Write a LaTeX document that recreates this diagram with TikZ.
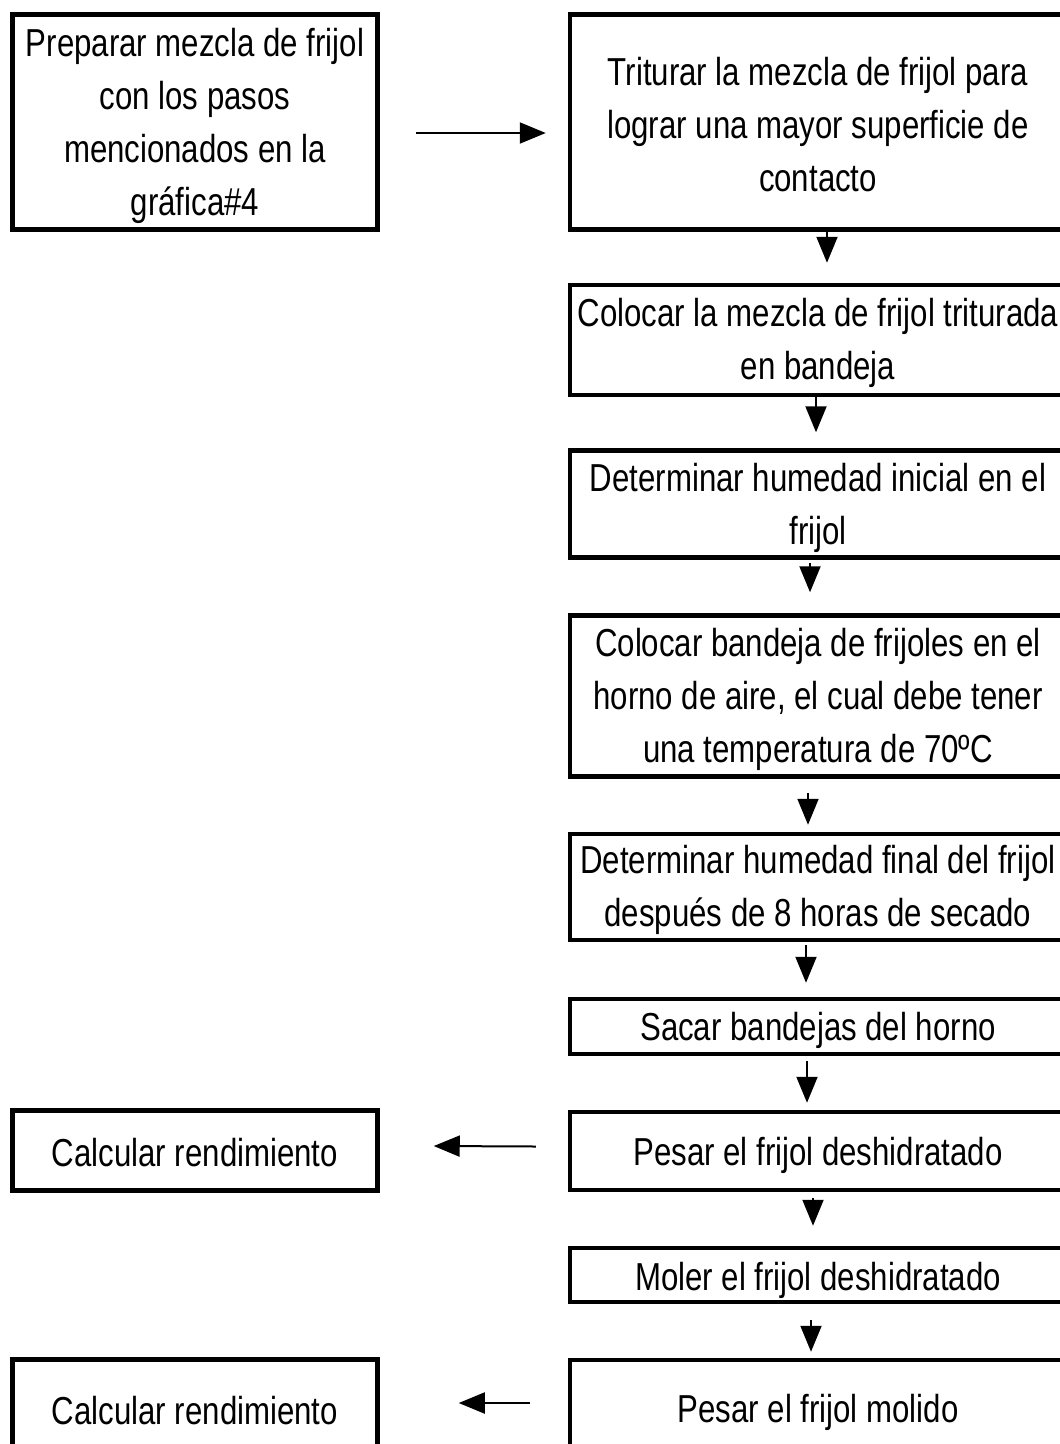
\documentclass[tikz,border=0pt]{standalone}
\usepackage{fontspec}
\setmainfont{Liberation Sans}[FakeStretch=0.8]
\usetikzlibrary{arrows.meta}
\begin{document}
\begin{tikzpicture}[x=1pt,y=-1pt,
  box/.style={draw, line width=4.5pt, inner sep=0pt},
  rbox/.style={box, minimum width=496pt},
  lbox/.style={box, minimum width=365pt},
  txt/.style={inner sep=0pt, align=center, font={\fontsize{39pt}{53pt}\selectfont}},
  arr/.style={line width=2pt, -{Triangle[width=21pt,length=26pt]}}]
\useasboundingbox (0,0) rectangle (1060,1444);
\clip (0,0) rectangle (1060,1444);
\fill[white] (0,0) rectangle (1060,1444);

% boxes
\node[lbox, minimum height=215pt] (L1) at (195,122) {};
\node[rbox, minimum height=215pt] (R1) at (818,122) {};
\node[rbox, minimum height=110pt] (R2) at (818,340) {};
\node[rbox, minimum height=107pt] (R3) at (818,504) {};
\node[rbox, minimum height=161pt] (R4) at (818,696) {};
\node[rbox, minimum height=106pt] (R5) at (818,887) {};
\node[rbox, minimum height=55pt] (R6) at (818,1026.5) {};
\node[rbox, minimum height=78pt] (R7) at (818,1151) {};
\node[rbox, minimum height=54pt] (R8) at (818,1275) {};
\node[rbox, minimum height=96pt] (R9) at (818,1408) {};
\node[lbox, minimum height=80pt] (L2) at (195,1150.5) {};
\node[lbox, minimum height=97pt] (L3) at (195,1408) {};

% texts
\node[txt] (L1t) at ([yshift=-4pt]L1.center) {Preparar mezcla de frijol\\con los pasos\\mencionados en la\\gráfica\#4};
\node[txt] (R1t) at ([yshift=-3pt]R1.center) {Triturar la mezcla de frijol para\\lograr una mayor superficie de\\contacto};
\node[txt] (R2t) at ([yshift=-3pt]R2.center) {Colocar la mezcla de frijol triturada\\en bandeja};
\node[txt] (R3t) at ([yshift=-4pt]R3.center) {Determinar humedad inicial en el\\frijol};
\node[txt] (R4t) at ([yshift=-3pt]R4.center) {Colocar bandeja de frijoles en el\\horno de aire, el cual debe tener\\una temperatura de 70ºC};
\node[txt] (R5t) at ([yshift=-3pt]R5.center) {Determinar humedad final del frijol\\después de 8 horas de secado};
\node[txt] (R6t) at ([yshift=-4pt]R6.center) {Sacar bandejas del horno};
\node[txt] (R7t) at ([yshift=-4pt]R7.center) {Pesar el frijol deshidratado};
\node[txt] (R8t) at ([yshift=-5pt]R8.center) {Moler el frijol deshidratado};
\node[txt] (R9t) at ([yshift=-4pt]R9.center) {Pesar el frijol molido};
\node[txt] (L2t) at ([yshift=-2pt]L2.center) {Calcular rendimiento};
\node[txt] (L3t) at ([yshift=-3pt]L3.center) {Calcular rendimiento};

% horizontal arrows
\draw[arr] ([xshift=36pt,yshift=-11pt]L1.east) -- ([xshift=-22pt,yshift=-11pt]R1.west);
\draw[arr] ([xshift=-32pt,yshift=4.5pt]R7.west) -- ([xshift=54pt,yshift=4.5pt]L2.east);
\draw[arr] ([xshift=-38pt,yshift=5pt]R9.west) -- ([xshift=79pt,yshift=5pt]L3.east);

% vertical arrows
\draw[arr] ([xshift=9pt]R1.south) -- ([xshift=9pt,yshift=20pt]R2.north);
\draw[arr] ([xshift=-2pt]R2.south) -- ([xshift=-2pt,yshift=16pt]R3.north);
\draw[arr] ([xshift=-8pt,yshift=-3pt]R3.south) -- ([xshift=-8pt,yshift=21pt]R4.north);
\draw[arr] ([xshift=-10pt,yshift=-14pt]R4.south) -- ([xshift=-10pt,yshift=7pt]R5.north);
\draw[arr] ([xshift=-12pt,yshift=-3pt]R5.south) -- ([xshift=-12pt,yshift=14pt]R6.north);
\draw[arr] ([xshift=-11pt,yshift=-5pt]R6.south) -- ([xshift=-11pt,yshift=7pt]R7.north);
\draw[arr] ([xshift=-5pt,yshift=-6pt]R7.south) -- ([xshift=-5pt,yshift=20pt]R8.north);
\draw[arr] ([xshift=-7pt,yshift=-16pt]R8.south) -- ([xshift=-7pt,yshift=6pt]R9.north);
\end{tikzpicture}
\end{document}
